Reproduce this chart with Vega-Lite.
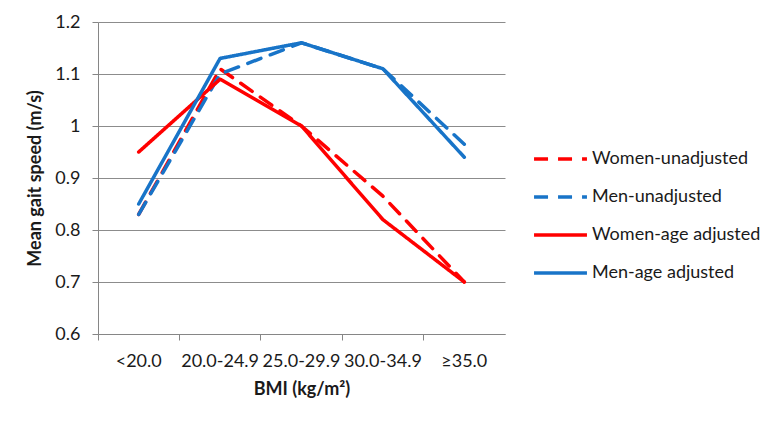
{
  "$schema": "https://vega.github.io/schema/vega-lite/v6.json",
  "autosize": "none",
  "width": 407,
  "height": 312,
  "padding": {"left": 98, "top": 22, "right": 277, "bottom": 94},
  "background": "white",
  "config": {
    "font": "Lato",
    "view": {"stroke": null},
    "axis": {"labelFont": "Lato", "titleFont": "Lato", "labelColor": "#1a1a1a", "titleColor": "#1a1a1a"}
  },
  "data": {
    "values": [
      {"bmi": "<20.0", "series": "Women-unadjusted", "speed": 0.83},
      {"bmi": "20.0-24.9", "series": "Women-unadjusted", "speed": 1.11},
      {"bmi": "25.0-29.9", "series": "Women-unadjusted", "speed": 1.0},
      {"bmi": "30.0-34.9", "series": "Women-unadjusted", "speed": 0.865},
      {"bmi": "≥35.0", "series": "Women-unadjusted", "speed": 0.7},
      {"bmi": "<20.0", "series": "Men-unadjusted", "speed": 0.83},
      {"bmi": "20.0-24.9", "series": "Men-unadjusted", "speed": 1.1},
      {"bmi": "25.0-29.9", "series": "Men-unadjusted", "speed": 1.16},
      {"bmi": "30.0-34.9", "series": "Men-unadjusted", "speed": 1.11},
      {"bmi": "≥35.0", "series": "Men-unadjusted", "speed": 0.965},
      {"bmi": "<20.0", "series": "Women-age adjusted", "speed": 0.95},
      {"bmi": "20.0-24.9", "series": "Women-age adjusted", "speed": 1.09},
      {"bmi": "25.0-29.9", "series": "Women-age adjusted", "speed": 1.0},
      {"bmi": "30.0-34.9", "series": "Women-age adjusted", "speed": 0.82},
      {"bmi": "≥35.0", "series": "Women-age adjusted", "speed": 0.7},
      {"bmi": "<20.0", "series": "Men-age adjusted", "speed": 0.85},
      {"bmi": "20.0-24.9", "series": "Men-age adjusted", "speed": 1.13},
      {"bmi": "25.0-29.9", "series": "Men-age adjusted", "speed": 1.16},
      {"bmi": "30.0-34.9", "series": "Men-age adjusted", "speed": 1.11},
      {"bmi": "≥35.0", "series": "Men-age adjusted", "speed": 0.94}
    ]
  },
  "mark": {"type": "line", "strokeWidth": 3.5, "strokeCap": "round", "strokeJoin": "round"},
  "encoding": {
    "x": {
      "field": "bmi", "type": "nominal",
      "sort": ["<20.0", "20.0-24.9", "25.0-29.9", "30.0-34.9", "≥35.0"],
      "scale": {"type": "band", "paddingInner": 0, "paddingOuter": 0},
      "axis": {
        "title": "BMI (kg/m²)", "titleFontSize": 18, "titleFontWeight": "bold", "titlePadding": 10,
        "labelAngle": 0, "labelFontSize": 18, "labelPadding": 12, "labelOverlap": false, "labelLimit": 0,
        "tickSize": 6, "tickColor": "#868686", "domainColor": "#868686", "domainWidth": 1,
        "bandPosition": 0, "grid": false
      }
    },
    "y": {
      "field": "speed", "type": "quantitative",
      "scale": {"domain": [0.6, 1.2], "nice": false, "zero": false},
      "axis": {
        "title": "Mean gait speed (m/s)", "titleFontSize": 18, "titleFontWeight": "bold", "titlePadding": 10,
        "values": [0.6, 0.7, 0.8, 0.9, 1.0, 1.1, 1.2],
        "labelExpr": "datum.value == 1 ? '1' : format(datum.value, '.1f')",
        "labelFontSize": 18, "labelPadding": 12,
        "tickSize": 6, "tickColor": "#868686", "domainColor": "#868686",
        "grid": true, "gridColor": "#8c8c8c", "gridWidth": 1
      }
    },
    "color": {
      "field": "series", "type": "nominal",
      "sort": ["Women-unadjusted", "Men-unadjusted", "Women-age adjusted", "Men-age adjusted"],
      "scale": {
        "domain": ["Women-unadjusted", "Men-unadjusted", "Women-age adjusted", "Men-age adjusted"],
        "range": ["#ff0000", "#1874c8", "#ff0000", "#1874c8"]
      },
      "legend": {
        "title": null, "orient": "none", "legendX": 434, "legendY": 129,
        "symbolType": "stroke", "symbolSize": 2800, "symbolStrokeWidth": 3.5,
        "clipHeight": 16, "rowPadding": 20, "labelFontSize": 18, "labelFont": "Lato",
        "labelColor": "#1a1a1a", "labelOffset": 3, "labelLimit": 0
      }
    },
    "strokeDash": {
      "field": "series", "type": "nominal",
      "scale": {
        "domain": ["Women-unadjusted", "Men-unadjusted", "Women-age adjusted", "Men-age adjusted"],
        "range": [[14, 10], [14, 10], [1, 0], [1, 0]]
      },
      "legend": null
    }
  }
}
